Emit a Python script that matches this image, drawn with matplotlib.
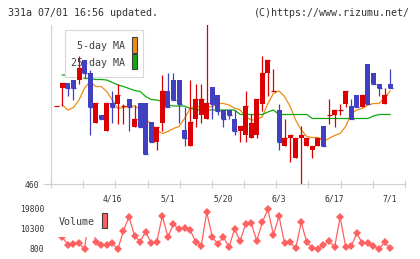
import numpy as np
import matplotlib.pyplot as plt
from matplotlib.patches import Rectangle

nan = np.nan

# daily candles (yen)
opens = [616, 653, 663, 669, 668, 708, 683, 583, 599, 567,
         623, 621, 616, 630, 575, 623, 623, 585, 545, 583,
         646, 669, 669, 568, 536, 590, 598, 590, 655, 638,
         608, 608, 591, 567, 558, 553, 558, 621, 683, 646,
         608, 536, 553, 513, 553, 536, 528, 536, 576, 599,
         599, 608, 621, 616, 638, 615, 700, 683, 661, 621,
         661]
closes = [616, 663, 653, 653, 693, 683, 615, 623, 591, 623,
          615, 638, 616, 615, 591, 575, 521, 545, 575, 646,
          615, 628, 621, 553, 585, 630, 630, 623, 621, 607,
          590, 598, 567, 576, 616, 583, 630, 683, 708, 646,
          545, 553, 559, 553, 559, 553, 537, 553, 536, 599,
          608, 608, 646, 590, 615, 638, 621, 661, 653, 638,
          653]
highs = [616, 663, 663, 669, 716, 708, 688, 623, 599, 623,
         646, 661, 620, 630, 618, 623, 623, 585, 575, 678,
         683, 683, 669, 615, 669, 661, 661, 790, 655, 638,
         608, 608, 608, 576, 646, 600, 630, 716, 708, 691,
         621, 591, 559, 553, 576, 553, 537, 553, 576, 630,
         608, 621, 646, 630, 638, 638, 700, 683, 661, 653,
         691]
lows = [616, 616, 636, 628, 661, 672, 558, 583, 591, 567,
        583, 581, 581, 567, 575, 575, 521, 545, 528, 567,
        615, 628, 583, 536, 536, 575, 583, 590, 590, 598,
        575, 590, 558, 545, 545, 553, 553, 607, 636, 646,
        528, 536, 505, 513, 456, 536, 513, 536, 536, 581,
        575, 599, 615, 590, 615, 615, 621, 661, 637, 621,
        653]
ma5 = [nan, 618, 608, 613, 628, 652, 665, 655, 655, 645,
       628, 611, 613, 616, 616, 609, 588, 581, 568, 561,
       565, 571, 575, 591, 611, 616, 613, 613, 615, 621,
       621, 618, 612, 608, 595, 588, 588, 595, 621, 641,
       646, 635, 615, 588, 568, 555, 553, 553, 546, 551,
       557, 561, 575, 601, 608, 611, 618, 621, 621, 633,
       646]
ma25 = [nan, 678, 678, 678, 678, 671, 671, 669, 669, 668,
        663, 658, 655, 651, 647, 645, 635, 629, 628, 625,
        618, 616, 616, 616, 611, 609, 608, 608, 608, 608,
        608, 608, 608, 599, 599, 599, 599, 599, 604, 608,
        599, 599, 599, 599, 599, 599, 591, 591, 591, 591,
        591, 591, 591, 591, 591, 591, 591, 596, 599, 599,
        599]
volume = [nan, 6500, 2700, 3200, 3500, 700, 21000, 4000, 2700, 2700,
          3500, 700, 9500, 16100, 7000, 4300, 9000, 3500, 4300, 16500,
          6600, 12500, 10200, 10600, 9800, 4300, 2400, 18200, 6400, 3200,
          6600, 1600, 10300, 4600, 12700, 13000, 4700, 13500, 19700, 7500,
          16500, 3500, 4000, 1100, 13500, 4000, 1100, 700, 2700, 4600,
          1600, 15900, 1900, 2200, 8300, 3500, 3500, 2200, 700, 4000,
          1100]
date_labels = ['4/16', '5/1', '5/20', '6/3', '6/17', '7/1']
date_pos = [10, 20, 30, 40, 50, 60]
vol_ticks = [800, 10300, 19800]

W, H = 420, 259
MONO = 'DejaVu Sans Mono'
RED, BLUE = '#dd0000', '#4040c0'

fig = plt.figure(figsize=(W / 100, H / 100), dpi=100)


def fbox(x0, y0, x1, y1):
    # pixel box -> figure fraction rect
    return [x0 / W, 1 - y1 / H, (x1 - x0) / W, (y1 - y0) / H]


def prect(ax, x0, y0, x1, y1, **kw):
    b = fbox(x0, y0, x1, y1)
    ax.add_patch(Rectangle((b[0], b[1]), b[2], b[3], transform=fig.transFigure, **kw))


ax = fig.add_axes(fbox(51, 25, 405, 184))
vax = fig.add_axes(fbox(51, 203, 405, 253))

x = np.arange(len(opens))
o = np.array(opens)
c = np.array(closes)
up = c >= o
colors = np.where(up, RED, BLUE)

xlim = (-1.04, 62.68)

# moving averages
ax.plot(x, ma5, color='#f08c10', lw=0.9, zorder=2)
ax.plot(x, ma25, color='#10a810', lw=0.9, zorder=2)

# legend
prect(ax, 65, 30, 143, 77.3, facecolor='white', edgecolor='#d8d8d8', lw=0.8, zorder=3)
ax.text(125 / W, 1 - 46 / H, '5-day MA', transform=fig.transFigure, ha='right', va='center',
        family=MONO, fontsize=7.2, color='#404040', zorder=4)
ax.text(125 / W, 1 - 63.3 / H, '25-day MA', transform=fig.transFigure, ha='right', va='center',
        family=MONO, fontsize=7.2, color='#404040', zorder=4)
prect(ax, 131.7, 37, 137.3, 52.7, facecolor='#f08c10', edgecolor='#404040', lw=0.8, zorder=4)
prect(ax, 131.7, 54, 137.3, 69.3, facecolor='#10a810', edgecolor='#404040', lw=0.8, zorder=4)

# candles
ax.vlines(x, lows, highs, colors=colors, lw=0.9, zorder=5)
ax.bar(x, np.abs(c - o), bottom=np.minimum(o, c), width=0.9, color=colors, lw=0, zorder=6)
ax.hlines(closes, x - 0.45, x + 0.45, colors=colors, lw=0.9, zorder=6)

ax.set_xlim(*xlim)
ax.set_ylim(460, 778)
ax.set_yticks([460])
ax.set_yticklabels(['460'], family=MONO, fontsize=5.8, color='#333333')
ax.tick_params(axis='y', length=5.8, width=0.8, color='#d0d0d0', pad=2.5)
ax.set_xticks(np.linspace(xlim[0], xlim[1], 12), minor=True)
ax.set_xticks(date_pos)
ax.set_xticklabels(date_labels, family=MONO, fontsize=5.8, color='#333333')
ax.tick_params(axis='x', which='major', length=0, pad=7.5)
ax.tick_params(axis='x', which='minor', direction='inout', length=5.5, width=0.8, color='#d0d0d0')
for s in ['top', 'right']:
    ax.spines[s].set_visible(False)
for s in ['left', 'bottom']:
    ax.spines[s].set_color('#d0d0d0')
    ax.spines[s].set_linewidth(0.8)

# volume
vax.plot(x, volume, color='#ff6060', lw=0.9, marker='D', ms=3.6, mew=0, zorder=2)
prect(vax, 55, 198, 112, 237.3, facecolor='white', edgecolor='none', zorder=3)
vax.text(58.3 / W, 1 - 222.3 / H, 'Volume', transform=fig.transFigure, ha='left', va='center',
         family=MONO, fontsize=7.2, color='#404040', zorder=4)
prect(vax, 101.7, 212.7, 107.3, 228.3, facecolor='#ff6060', edgecolor='#404040', lw=0.8, zorder=4)
vax.set_xlim(*xlim)
vax.set_ylim(-1100, 22650)
vax.set_xticks([])
vax.set_yticks(vol_ticks)
vax.set_yticklabels([str(v) for v in vol_ticks], family=MONO, fontsize=5.8, color='#333333')
vax.tick_params(axis='y', length=0, pad=5)
for s in vax.spines.values():
    s.set_visible(False)

fig.text(8 / W, 1 - 13 / H, '331a 07/01 16:56 updated.', ha='left', va='center',
         family=MONO, fontsize=7.2, color='#333333')
fig.text(410 / W, 1 - 13 / H, '(C)https://www.rizumu.net/', ha='right', va='center',
         family=MONO, fontsize=7.2, color='#333333')

fig.savefig('out.png', dpi=100)
